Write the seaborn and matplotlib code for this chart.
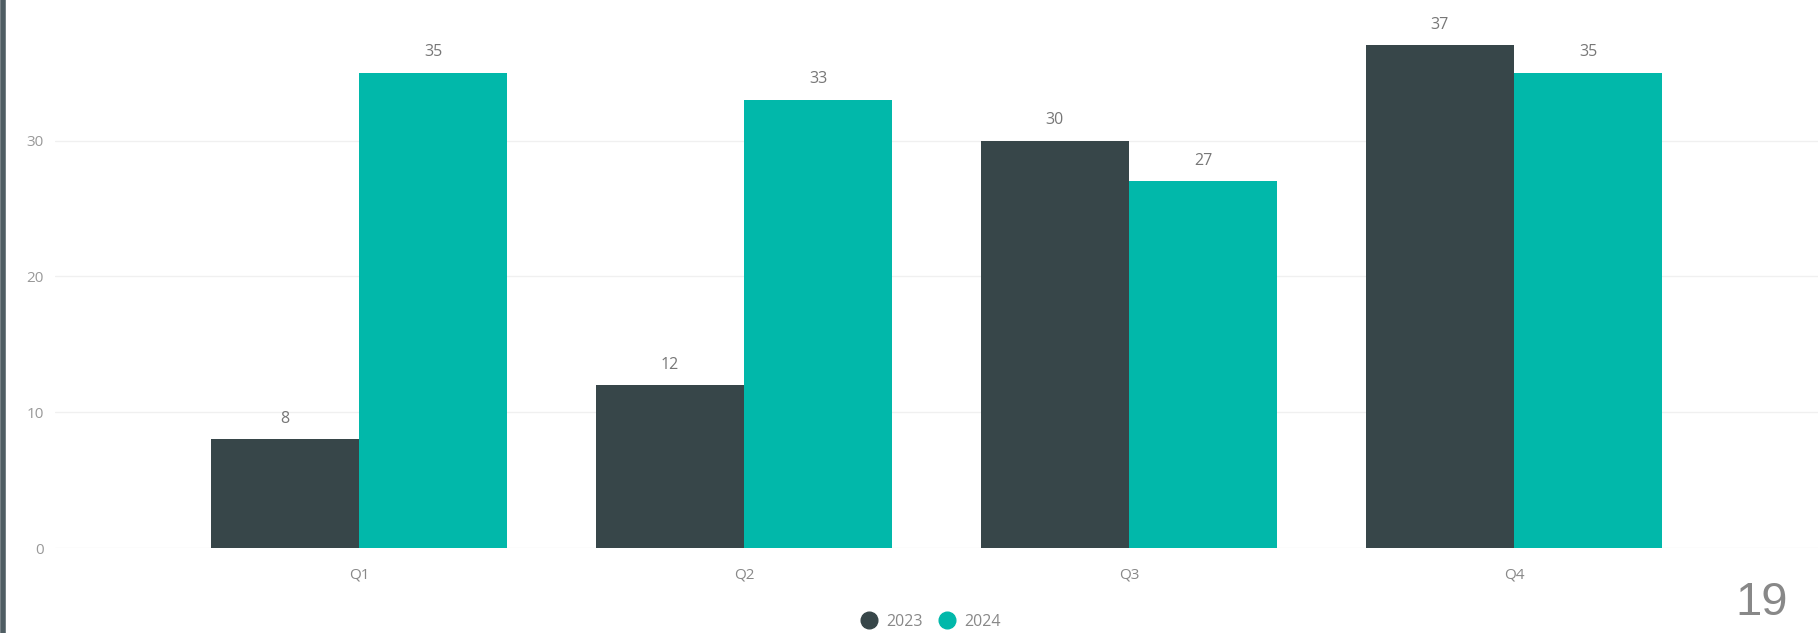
import matplotlib
matplotlib.use("Agg")
import matplotlib.pyplot as plt
from matplotlib.lines import Line2D
import seaborn as sns
import pandas as pd

quarters = ["Q1", "Q2", "Q3", "Q4"]
years = ["2023", "2024"]
values_2023 = [8, 12, 30, 37]
values_2024 = [35, 33, 27, 35]
colors = ["#374649", "#01B8AA"]

df = pd.DataFrame({
    "quarter": quarters * 2,
    "year": [years[0]] * 4 + [years[1]] * 4,
    "value": values_2023 + values_2024,
})

sns.set_style("white")
plt.rcParams["font.family"] = ["Open Sans", "DejaVu Sans"]

fig = plt.figure(figsize=(18.18, 6.33), dpi=100)
ax = fig.add_axes([55 / 1818, 1 - 548 / 633, 1 - 55 / 1818, 548 / 633])

sns.barplot(data=df, x="quarter", y="value", hue="year", palette=colors,
            width=0.77, gap=0, saturation=1, linewidth=0, ax=ax, legend=False)

for c in ax.containers:
    ax.bar_label(c, padding=9, fontsize=11.5, color="#777777")

ax.set_xlim(-0.79, 3.79)
ax.set_ylim(0, 40.35)
ax.set_yticks([0, 10, 20, 30])
ax.grid(axis="y", color="#f0f0f0", linewidth=1)
ax.set_axisbelow(True)
for s in ax.spines.values():
    s.set_visible(False)
ax.set_xlabel("")
ax.set_ylabel("")
ax.tick_params(axis="x", length=0, pad=14, labelsize=11, labelcolor="#888888")
ax.tick_params(axis="y", length=0, pad=8, labelsize=11, labelcolor="#999999")

handles = [Line2D([], [], marker="o", linestyle="", markersize=12,
                  markerfacecolor=c, markeredgecolor=c) for c in colors]
fig.legend(handles, years, loc="center", bbox_to_anchor=(0.51, 0.018),
           ncol=2, frameon=False, fontsize=11.5, labelcolor="#888888",
           handletextpad=0.1, columnspacing=0.5)

fig.text(1762 / 1818, 1 - 603 / 633, "19", fontsize=34, color="#888888",
         family="Liberation Sans", ha="center", va="center")

# dark border on the left edge
fig.add_artist(Line2D([0.0018, 0.0018], [0, 1], transform=fig.transFigure,
                      color="#4f5d63", linewidth=4))

fig.savefig("out.png", dpi=100)
